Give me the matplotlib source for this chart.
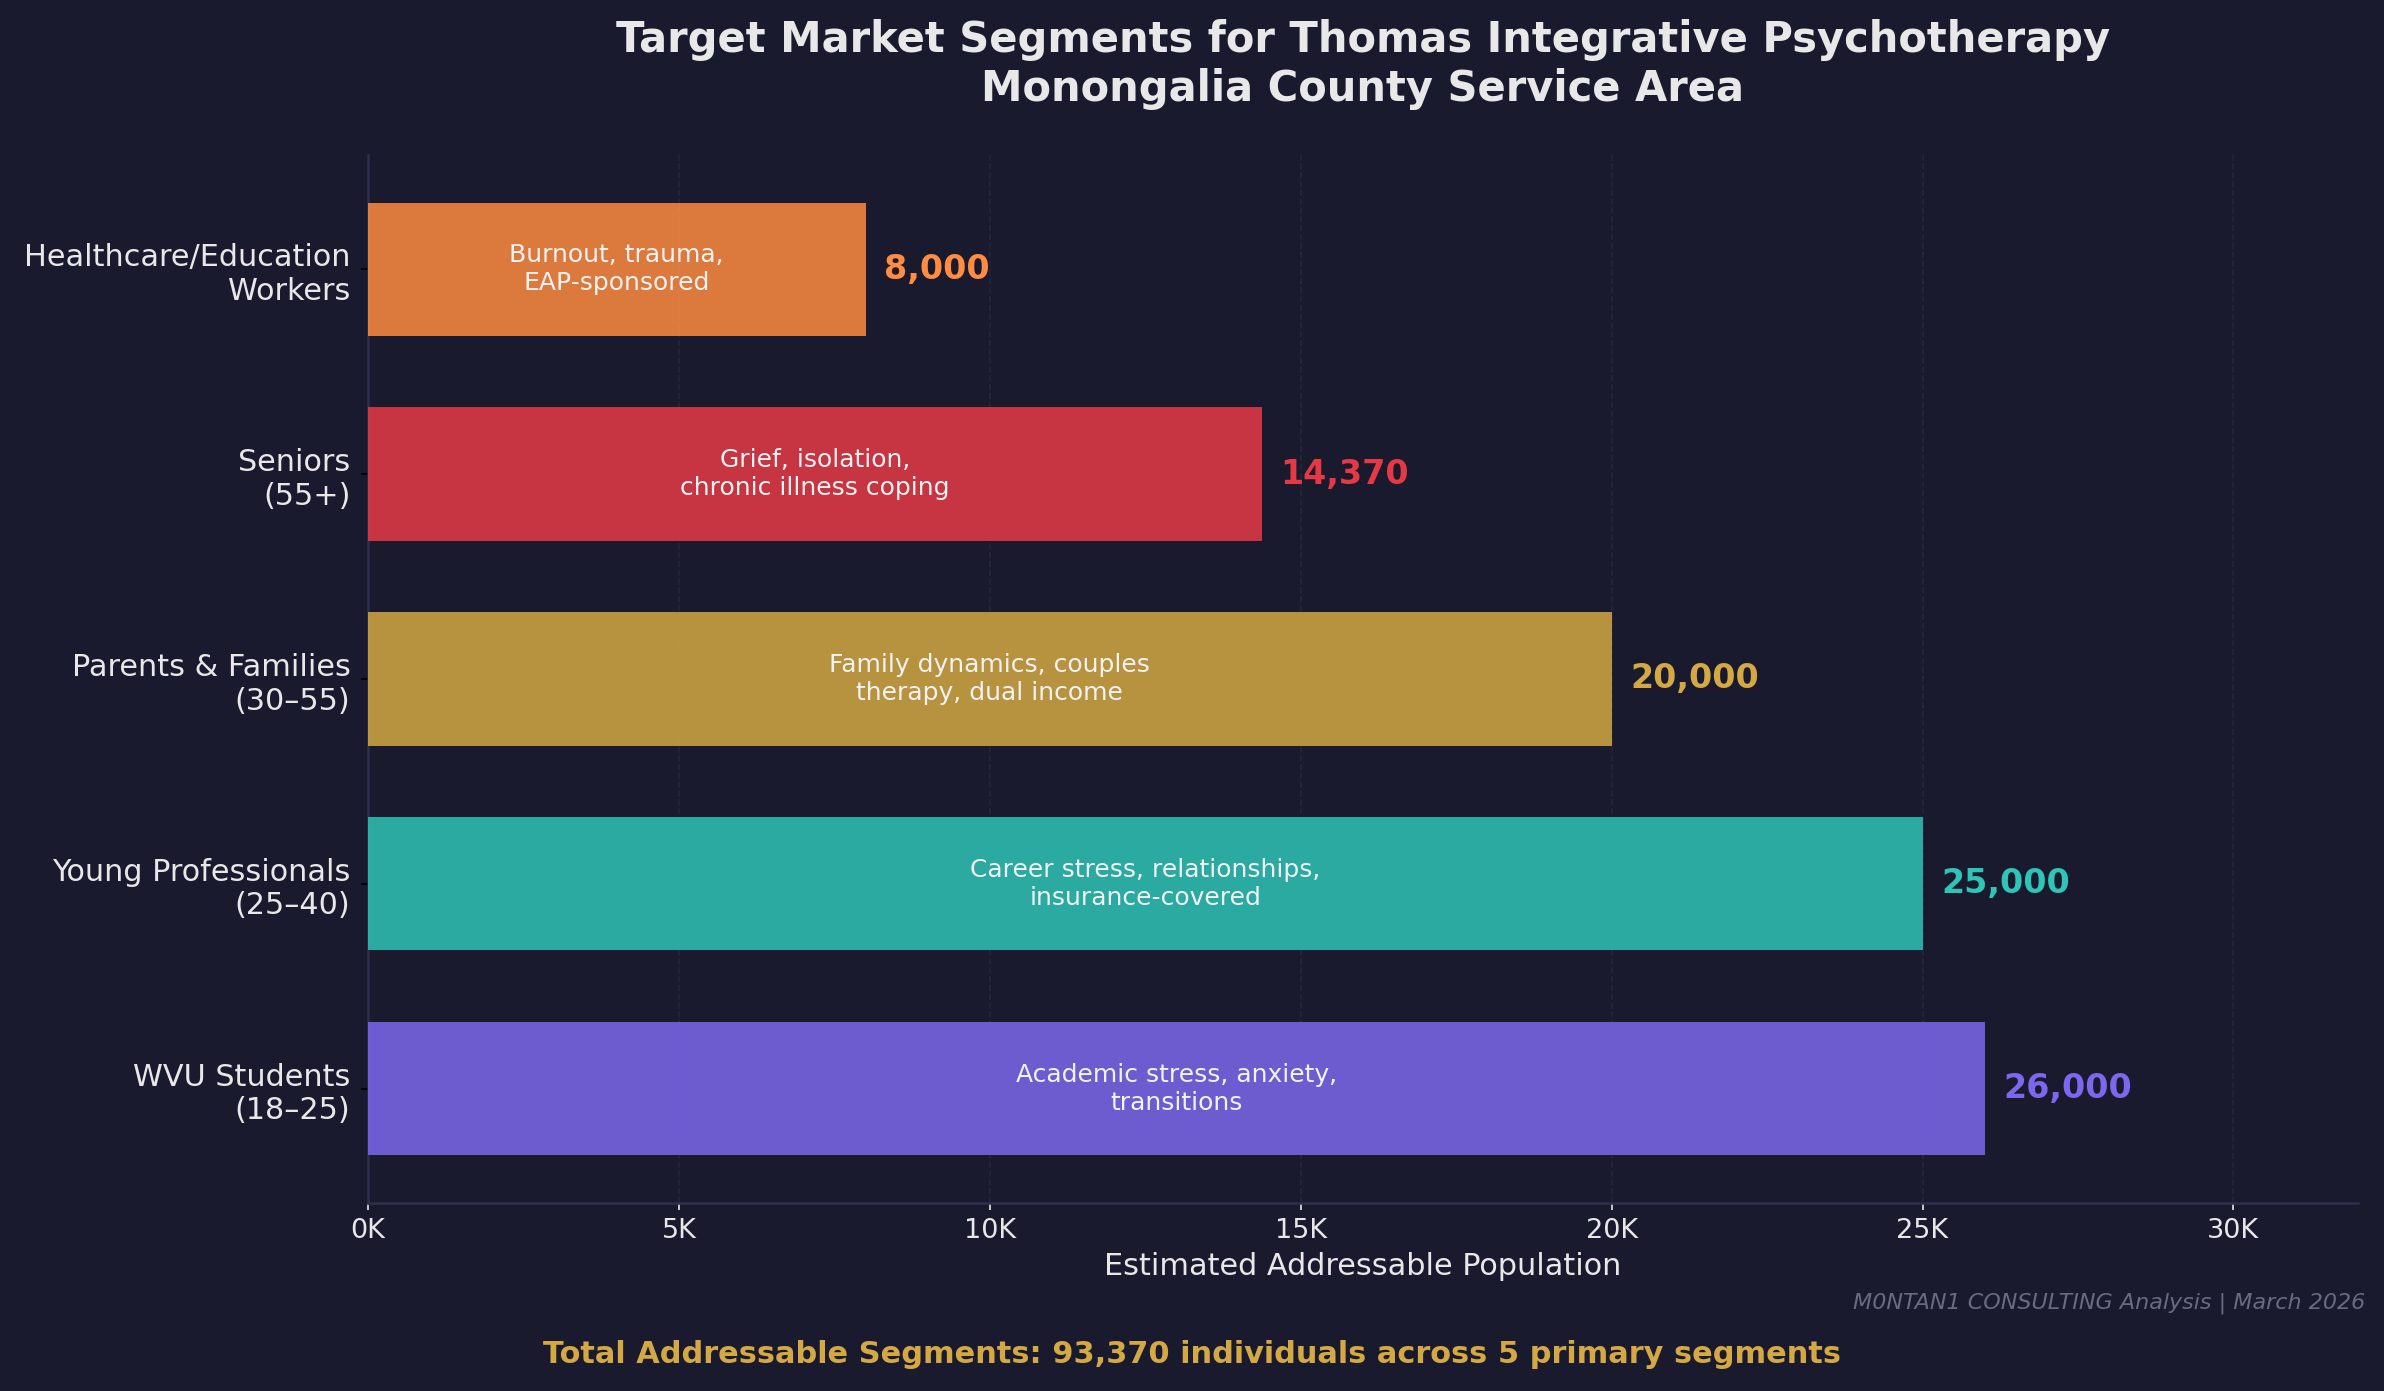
import matplotlib
matplotlib.use("Agg")
import matplotlib.pyplot as plt
from matplotlib.ticker import FuncFormatter

# data, bottom to top
segments = ["WVU Students\n(18–25)", "Young Professionals\n(25–40)",
            "Parents & Families\n(30–55)", "Seniors\n(55+)",
            "Healthcare/Education\nWorkers"]
populations = [26000, 25000, 20000, 14370, 8000]
needs = ["Academic stress, anxiety,\ntransitions",
         "Career stress, relationships,\ninsurance-covered",
         "Family dynamics, couples\ntherapy, dual income",
         "Grief, isolation,\nchronic illness coping",
         "Burnout, trauma,\nEAP-sponsored"]
colors = ["#7B68EE", "#2EC4B6", "#D4A843", "#E63946", "#FF8C42"]

BG = "#1a1a2e"
TXT = "#e8e8e8"

fig = plt.figure(figsize=(2384 / 150, 1391 / 150), dpi=150, facecolor=BG)
ax = fig.add_axes([0.1544, 0.1352, 0.8346, 0.7534])
ax.set_facecolor(BG)

bars = ax.barh(range(len(segments)), populations, height=0.65,
               color=colors, alpha=0.85, zorder=3)

for i, (bar, val, txt, c) in enumerate(zip(bars, populations, needs, colors)):
    y = bar.get_y() + bar.get_height() / 2
    ax.text(val / 2, y, txt, ha="center", va="center", fontsize=12,
            color="#f2f2f2", zorder=4)
    ax.text(val + 300, y, f"{val:,}", ha="left", va="center", fontsize=16,
            fontweight="bold", color=c, zorder=4)

ax.set_yticks(range(len(segments)))
ax.set_yticklabels(segments, fontsize=14.5, color=TXT)
ax.set_xlim(0, 32000)
ax.set_xticks(range(0, 30001, 5000))
ax.xaxis.set_major_formatter(FuncFormatter(lambda v, p: f"{int(v/1000)}K"))
ax.tick_params(axis="x", colors=TXT, labelsize=13)
ax.tick_params(axis="y", colors="black", labelcolor=TXT, pad=5)
ax.set_xlabel("Estimated Addressable Population", fontsize=14.5, color=TXT)

ax.grid(axis="x", color="#2a2a45", alpha=0.6, linestyle="--", linewidth=0.8, zorder=0)
for s in ["top", "right"]:
    ax.spines[s].set_visible(False)
for s in ["left", "bottom"]:
    ax.spines[s].set_color("#2e2e4e")
    ax.spines[s].set_linewidth(1.2)

ax.set_title("Target Market Segments for Thomas Integrative Psychotherapy\n"
             "Monongalia County Service Area",
             fontsize=20, fontweight="bold", color=TXT, pad=26)

total = sum(populations)
fig.text(0.5, 0.026,
         f"Total Addressable Segments: {total:,} individuals across {len(populations)} primary segments",
         ha="center", va="center", fontsize=14.6, fontweight="bold", color="#D4A843")
fig.text(0.992, 0.063, "M0NTAN1 CONSULTING Analysis | March 2026",
         ha="right", va="center", fontsize=10.7, style="italic", color="#6a6a80")

fig.savefig("out.png", dpi=150, facecolor=BG)
